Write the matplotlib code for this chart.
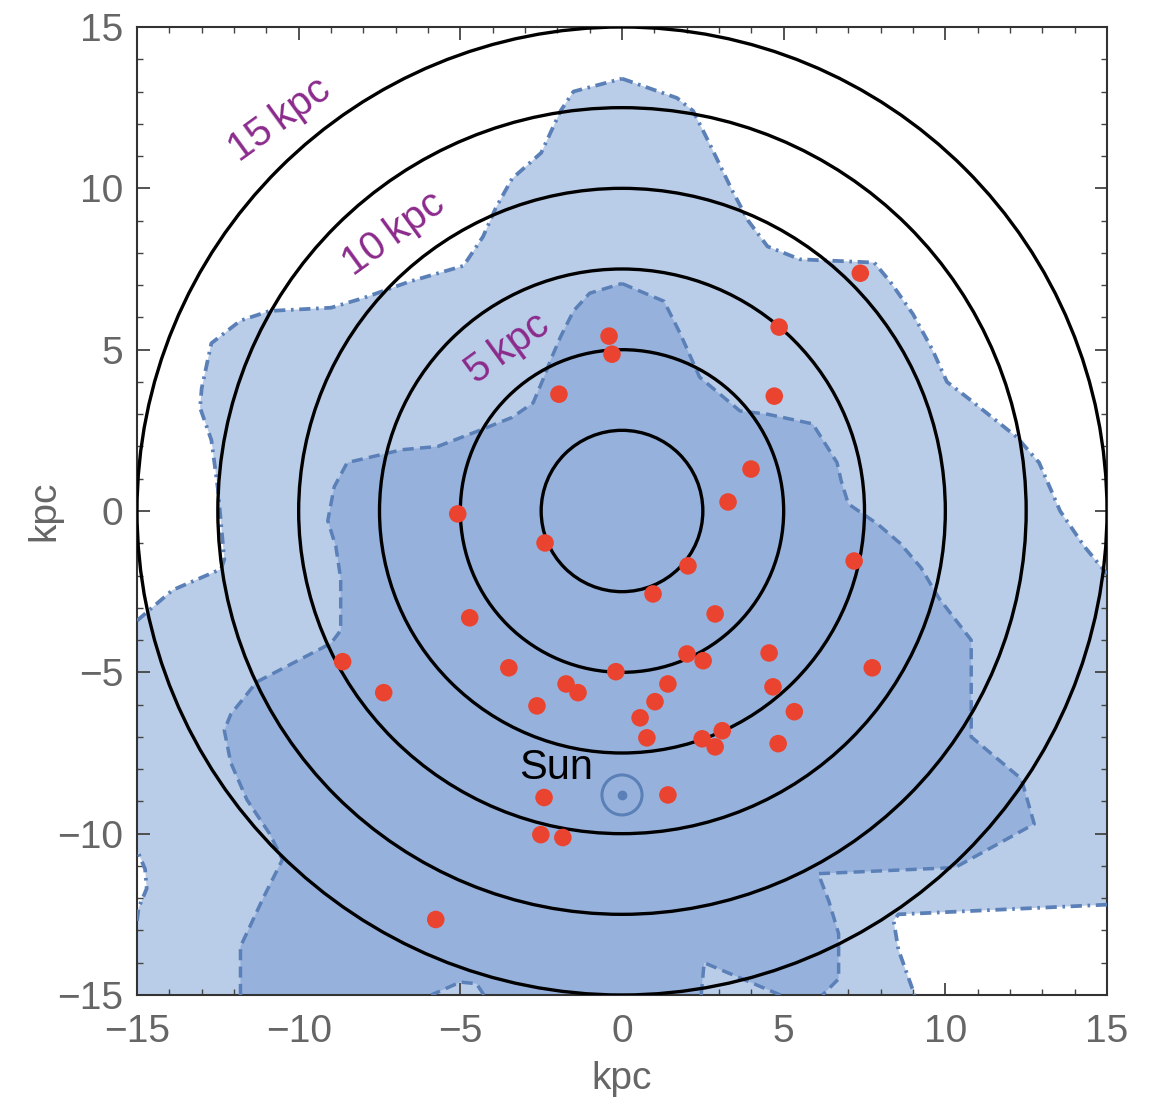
import numpy as np
import matplotlib.pyplot as plt
from matplotlib.patches import Circle, Polygon

plt.rcParams['font.family'] = ['Liberation Sans', 'DejaVu Sans']

# outer (light) region, kpc
light_x = [0.0, 1.7, 2.2, 2.7, 3.4, 3.9, 4.5, 5.5, 7.8, 8.3, 9.0, 9.6, 10.05, 10.7,
           12.2, 12.9, 13.55, 14.3, 15.0, 15.0, 8.55, 8.4, 8.55, 9.05, -15.0,
           -15.0, -14.95, -14.7, -14.75, -15.0, -15.0, -13.9, -12.4, -12.3, -12.5,
           -12.7, -13.05, -13.0, -12.7, -11.8, -10.9, -9.0, -8.0, -6.6, -4.9, -4.3,
           -3.9, -3.4, -2.5, -1.9, -1.5]
light_y = [13.4, 12.8, 12.4, 11.4, 9.95, 9.0, 8.2, 7.8, 7.7, 7.1, 6.1, 5.0, 4.0, 3.5,
           2.3, 1.5, 0.0, -1.1, -1.95, -12.2, -12.5, -12.7, -13.6, -15.0, -15.0,
           -12.7, -12.3, -11.7, -11.1, -10.5, -3.4, -2.45, -1.8, -1.5, 0.7,
           2.2, 3.2, 3.8, 5.2, 5.9, 6.2, 6.3, 6.6, 7.1, 7.6, 8.5,
           9.4, 10.3, 11.1, 12.4, 13.0]

# inner (darker) region, kpc
dark_x = [0.0, 0.35, 1.3, 1.8, 2.4, 3.65, 4.5, 5.9, 6.65, 6.78, 7.0, 7.9, 8.6, 9.25,
          9.8, 10.8, 10.8, 12.35, 12.75, 10.3, 6.07, 6.4, 6.7, 6.7, 6.2, 4.9, 2.54,
          2.45, -4.27, -4.5, -5.0, -5.9, -11.8, -11.8, -11.1, -10.5, -10.9, -11.6,
          -12.1, -12.3, -12.1, -11.3, -9.0, -8.7, -8.7, -8.85, -9.1, -8.9, -8.5,
          -6.8, -5.7, -4.4, -3.4, -2.75, -2.45, -2.2, -1.9, -1.5, -1.0]
dark_y = [7.05, 6.9, 6.5, 5.5, 4.15, 3.1, 3.0, 2.7, 1.5, 0.93, 0.22, -0.4, -1.0, -1.76,
          -2.7, -4.0, -7.0, -8.3, -9.7, -11.05, -11.24, -12.1, -13.1, -14.5, -15.0, -15.0, -14.0,
          -15.0, -15.0, -14.65, -14.6, -15.0, -15.0, -13.5, -12.0, -10.8, -10.0, -8.95,
          -7.8, -6.8, -6.3, -5.3, -4.1, -3.7, -2.1, -1.1, -0.3, 0.75, 1.5,
          1.9, 2.0, 2.5, 2.9, 3.35, 4.06, 4.7, 5.4, 6.2, 6.75]

# sources
src_x = [7.37, -0.40, -0.31, 4.86, -1.95, 4.71, 3.99, 3.28, -5.08, -2.38, 7.18, 2.04,
         0.96, -4.71, 2.88, -8.64, -3.50, -0.19, 2.01, 2.51, 4.55, 7.74, -7.37, -1.73,
         -1.36, 1.42, 4.67, -2.63, 1.02, 0.56, 5.33, 0.77, 2.48, 3.10, 2.88, 4.83,
         -2.41, 1.42, -2.51, -1.83, -5.76]
src_y = [7.37, 5.42, 4.86, 5.70, 3.62, 3.56, 1.30, 0.28, -0.09, -0.99, -1.55, -1.70,
         -2.57, -3.31, -3.19, -4.67, -4.86, -4.98, -4.43, -4.64, -4.40, -4.86, -5.63, -5.36,
         -5.63, -5.36, -5.45, -6.04, -5.91, -6.41, -6.22, -7.03, -7.06, -6.81, -7.31, -7.21,
         -8.88, -8.80, -10.03, -10.12, -12.66]

ring_r = [2.5, 5, 7.5, 10, 12.5, 15]
ring_labels = ['5\u2009kpc', '10\u2009kpc', '15\u2009kpc']
ring_label_x = [-3.53, -7.06, -10.59]
ring_label_y = [5.05, 8.61, 12.14]

sun_x, sun_y = 0.0, -8.8

LIGHT = '#bacde8'
DARK = '#96b2dc'
EDGE = '#5b80b8'
LIM = 15


def draw_outline(ax, xs, ys, **kw):
    # boundary line, skipping the pieces that run along the frame
    pts = list(zip(xs, ys)) + [(xs[0], ys[0])]
    seg = [pts[0]]
    for p, q in zip(pts[:-1], pts[1:]):
        on_edge = (abs(p[0]) >= LIM and p[0] == q[0]) or (abs(p[1]) >= LIM and p[1] == q[1])
        if on_edge:
            if len(seg) > 1:
                ax.plot(*zip(*seg), **kw)
            seg = [q]
        else:
            seg.append(q)
    if len(seg) > 1:
        ax.plot(*zip(*seg), **kw)


fig = plt.figure(figsize=(11.57, 11.04), dpi=100)
ax = fig.add_axes([137 / 1157, 109 / 1104, 970 / 1157, 968 / 1104])

ax.add_patch(Polygon(np.column_stack([light_x, light_y]), closed=True, fc=LIGHT, ec='none', zorder=1))
ax.add_patch(Polygon(np.column_stack([dark_x, dark_y]), closed=True, fc=DARK, ec='none', zorder=2))
draw_outline(ax, light_x, light_y, color=EDGE, lw=2.7, dashes=(3.0, 1.5, 0.7, 1.5), zorder=3)
draw_outline(ax, dark_x, dark_y, color=EDGE, lw=2.5, dashes=(3.2, 1.8), zorder=3)

for r in ring_r:
    ax.add_patch(Circle((0, 0), r, fill=False, ec='black', lw=2.4, zorder=4))

for t, lx, ly in zip(ring_labels, ring_label_x, ring_label_y):
    ax.text(lx, ly, t, color='#8b2a8c', fontsize=29, rotation=36,
            ha='center', va='center', rotation_mode='anchor', zorder=5)

ax.scatter(src_x, src_y, s=160, color='#ea4430', edgecolors='none', zorder=6)

ax.add_patch(Circle((sun_x, sun_y), 0.62, fill=False, ec=EDGE, lw=2.2, zorder=5))
ax.plot([sun_x], [sun_y], 'o', color=EDGE, markersize=6, zorder=5)
ax.text(-2.05, -7.95, 'Sun', fontsize=30, ha='center', va='center', color='black', zorder=6)

ax.set_xlim(-LIM, LIM)
ax.set_ylim(-LIM, LIM)
ax.set_xticks(np.arange(-15, 16, 5))
ax.set_yticks(np.arange(-15, 16, 5))
ax.set_xticks(np.arange(-15, 16, 1), minor=True)
ax.set_yticks(np.arange(-15, 16, 1), minor=True)
ax.tick_params(which='both', direction='in', top=True, right=True, color='#444444',
               labelsize=28, labelcolor='#666666')
ax.tick_params(which='major', length=9, width=1.3)
ax.tick_params(which='minor', length=4.5, width=1.0)
ax.tick_params(axis='x', which='major', pad=14)
ax.tick_params(axis='y', which='major', pad=10)
ax.set_xlabel('kpc', fontsize=28, color='#666666')
ax.set_ylabel('kpc', fontsize=28, color='#666666')
ax.xaxis.set_label_coords(0.5, -0.068)
ax.yaxis.set_label_coords(-0.077, 0.5)
for s in ax.spines.values():
    s.set_color('#333333')
    s.set_linewidth(1.5)

fig.savefig('out.png', dpi=100)
